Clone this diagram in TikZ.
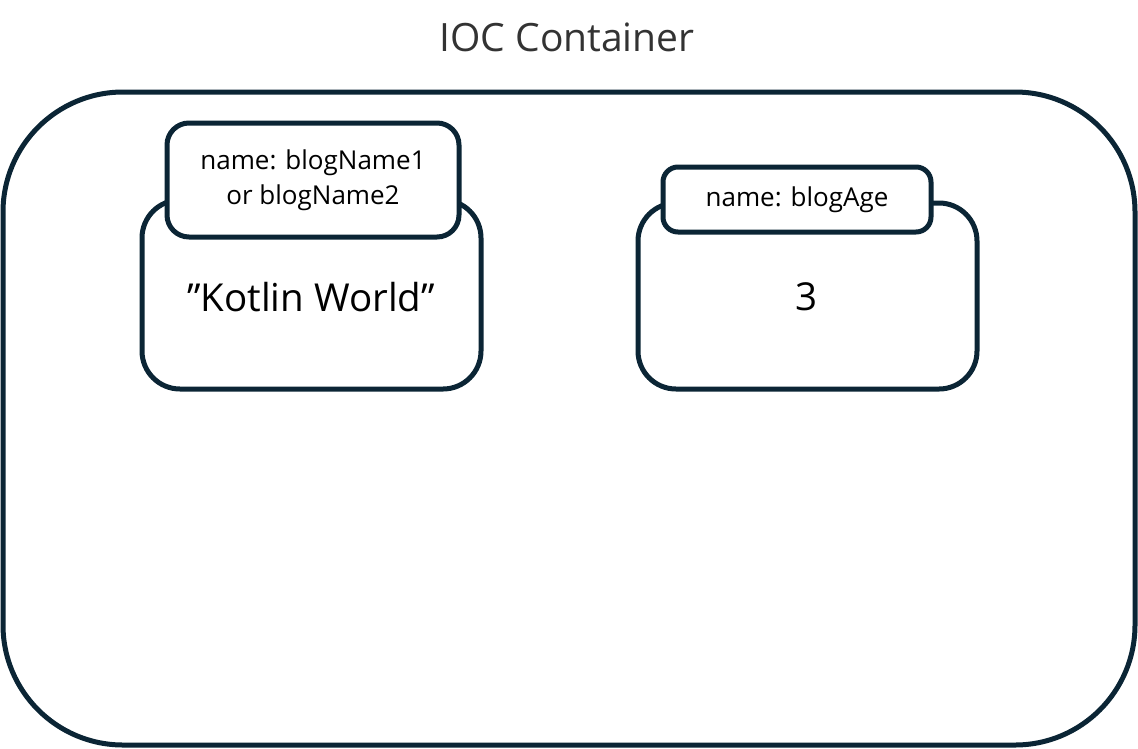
\documentclass[tikz,border=0pt]{standalone}
\usepackage{fontspec}
\setmainfont{Open Sans}
\definecolor{navy}{HTML}{0B2535}
\definecolor{titlegray}{HTML}{333333}
\begin{document}
\begin{tikzpicture}[x=1pt,y=-1pt,
  box/.style={draw=navy,line width=5pt,fill=white,inner sep=0pt,outer sep=0pt,rectangle},
  lbl/.style={font=\fontsize{26}{35}\selectfont,align=center,text=black},
  val/.style={font=\fontsize{38.5}{44}\selectfont,text=black}]
\useasboundingbox (0,0) rectangle (1138,748);
\node[box,rounded corners=120pt,minimum width=1132pt,minimum height=653pt] (outer) at (569,418.5) {};
\node[font=\fontsize{39}{44}\selectfont,text=titlegray] (title) at (567,37) {IOC Container};
\node[box,rounded corners=38pt,minimum width=339pt,minimum height=189pt] (b1) at (311.5,294.5) {};
\node[box,rounded corners=22pt,minimum width=292pt,minimum height=114pt,lbl] (l1) at (313,180) {name: blogName1\\or blogName2};
\node[val] (v1) at (311,297) {”Kotlin World”};
\node[box,rounded corners=38pt,minimum width=339pt,minimum height=186pt] (b2) at (807.5,296) {};
\node[box,rounded corners=15pt,minimum width=268pt,minimum height=65pt,lbl] (l2) at (797,199.5) {name: blogAge};
\node[val] (v2) at (806,297) {3};
\end{tikzpicture}
\end{document}
